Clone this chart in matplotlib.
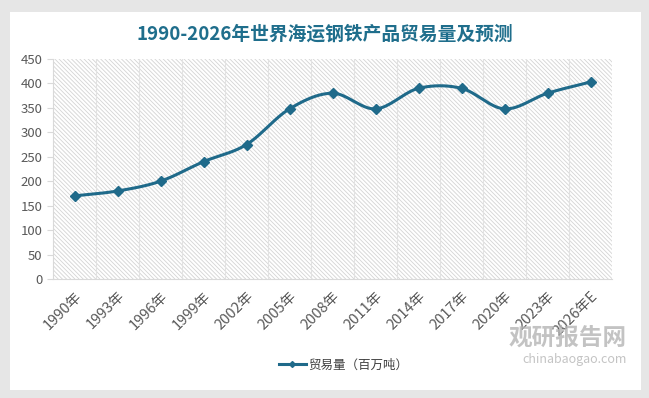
import matplotlib
matplotlib.use('Agg')
import matplotlib.pyplot as plt
from matplotlib.patches import Rectangle
import numpy as np

plt.rcParams['font.family'] = ['Noto Sans CJK SC', 'DejaVu Sans']
plt.rcParams['hatch.color'] = '#d4d4d4'
plt.rcParams['hatch.linewidth'] = 0.6

years = ['1990年', '1993年', '1996年', '1999年', '2002年', '2005年', '2008年',
         '2011年', '2014年', '2017年', '2020年', '2023年', '2026年E']
volume = [170, 180, 200, 240, 275, 348, 380, 348, 390, 390, 348, 380, 403]

LINE = '#1f6a8a'
TITLE = '#1f6e8c'


def smooth(x, y, n=20):
  # catmull-rom like Excel's smoothed line
  x = np.asarray(x, float)
  y = np.asarray(y, float)
  px = np.concatenate([[2 * x[0] - x[1]], x, [2 * x[-1] - x[-2]]])
  py = np.concatenate([[2 * y[0] - y[1]], y, [2 * y[-1] - y[-2]]])
  xs, ys = [], []
  for i in range(1, len(px) - 2):
    t = np.linspace(0, 1, n, endpoint=False)
    for p, out in ((px, xs), (py, ys)):
      p0, p1, p2, p3 = p[i - 1], p[i], p[i + 1], p[i + 2]
      out.extend(0.5 * ((2 * p1) + (-p0 + p2) * t +
                        (2 * p0 - 5 * p1 + 4 * p2 - p3) * t ** 2 +
                        (-p0 + 3 * p1 - 3 * p2 + p3) * t ** 3))
  xs.append(x[-1])
  ys.append(y[-1])
  return xs, ys


fig = plt.figure(figsize=(6.49, 3.98), dpi=100)
fig.patch.set_facecolor('#e6e6e6')
card = Rectangle((10 / 649, 8 / 398), 631 / 649, 378 / 398,
                 transform=fig.transFigure, facecolor='white',
                 edgecolor='none', zorder=-5)
fig.patches.append(card)

ax = fig.add_axes([53 / 649, 119 / 398, 559 / 649, 220 / 398])
ax.set_zorder(2)
ax.set_facecolor('white')
x = np.arange(len(years))
ax.set_xlim(-0.5, len(years) - 0.5)
ax.set_ylim(0, 450)

ax.add_patch(Rectangle((-0.5, 0), len(years), 450, facecolor='white',
                       edgecolor='#d4d4d4', hatch='\\\\\\\\\\\\\\\\', lw=0,
                       zorder=0))

for b in np.arange(0.5, len(years) - 0.5, 1):
  ax.axvline(b, color='#e2e2e2', lw=0.8, zorder=1)

sx, sy = smooth(x, volume)
ax.plot(sx, sy, color=LINE, lw=2.2, zorder=3)
ax.plot(x, volume, ls='none', marker='D', ms=5, color=LINE, zorder=4)
ax.plot([], [], color=LINE, lw=2.2, marker='D', ms=3,
        label='贸易量（百万吨）')

ax.set_yticks(range(0, 451, 50))
ax.set_xticks(x)
ax.set_xticklabels(years, rotation=45, ha='right', rotation_mode='anchor')
ax.tick_params(axis='y', labelsize=9.5, colors='#595959', length=4,
               direction='out', color='#d9d9d9')
ax.tick_params(axis='x', labelsize=10.5, colors='#595959', length=0, pad=7)
for s in ['top', 'right']:
  ax.spines[s].set_visible(False)
ax.spines['left'].set_color('#d9d9d9')
ax.spines['bottom'].set_color('#d9d9d9')

fig.text(0.5, 1 - 34 / 398, '1990-2026年世界海运钢铁产品贸易量及预测',
         ha='center', va='center', fontsize=13.5, fontweight='bold',
         color=TITLE)

ax.legend(loc='center', bbox_to_anchor=(0.52, -0.39), frameon=False,
          fontsize=9, labelcolor='#404040', handlelength=2.2,
          handletextpad=0.2)

fig.text(627 / 649, 1 - 338 / 398, '观研报告网', ha='right', va='center',
         fontsize=17, fontweight='bold', color='#b5b5b5', alpha=0.8)
fig.text(627 / 649, 1 - 359 / 398, 'chinabaogao.com', ha='right',
         va='center', fontsize=9, color='#b5b5b5', alpha=0.8)

fig.savefig('out.png', dpi=100, facecolor=fig.get_facecolor())
